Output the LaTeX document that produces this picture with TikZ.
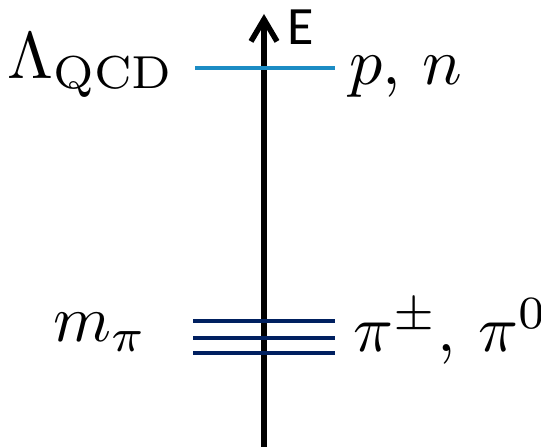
\documentclass[tikz,border=0pt]{standalone}
\usepackage{fontspec}
\newfontfamily\efont{Carlito}
\usetikzlibrary{arrows.meta}
\definecolor{qcdblue}{RGB}{28,140,196}
\definecolor{pinavy}{RGB}{0,32,96}
\newcommand{\bigtxt}[1]{\scalebox{6.6}{\fontsize{10}{12}\selectfont #1}}
\begin{document}
\begin{tikzpicture}[x=1pt,y=1pt,
  mathlbl/.style={inner sep=0pt},
  level/.style={line width=3.8pt},
  axisline/.style={line width=5.5pt,-{Straight Barb[length=22pt,width=26pt]}}]
\useasboundingbox (0,0) rectangle (541,447);
% axis
\coordinate (bot) at (264,0);
\coordinate (top) at (264,433);
\draw[axisline] (bot) -- (top);
\node[inner sep=0pt,font=\efont\fontsize{54}{60}\selectfont] (E) at (301,419.5) {E};
% QCD level
\coordinate (q1) at (195,379);
\coordinate (q2) at (335,379);
\draw[level,line width=3.2pt,qcdblue] (q1) -- (q2);
\node[mathlbl,anchor=base east] (lqcd) at (175,368) {\bigtxt{$\Lambda_{\mathrm{QCD}}$}};
\node[mathlbl,anchor=base west] (pn) at (349,362) {\bigtxt{$p$, $n$}};
% pion levels
\coordinate (a1) at (193,126);
\coordinate (a2) at (335,126);
\coordinate (b1) at (193,109);
\coordinate (b2) at (335,109);
\coordinate (c1) at (193,94);
\coordinate (c2) at (335,94);
\draw[level,pinavy] (a1) -- (a2);
\draw[level,pinavy] (b1) -- (b2);
\draw[level,pinavy] (c1) -- (c2);
\node[mathlbl,anchor=base west] (mpi) at (53,105) {\bigtxt{$m_\pi$}};
\node[mathlbl,anchor=base west] (pions) at (353,95) {\bigtxt{$\pi^{\pm}$, $\pi^{0}$}};
\end{tikzpicture}
\end{document}
